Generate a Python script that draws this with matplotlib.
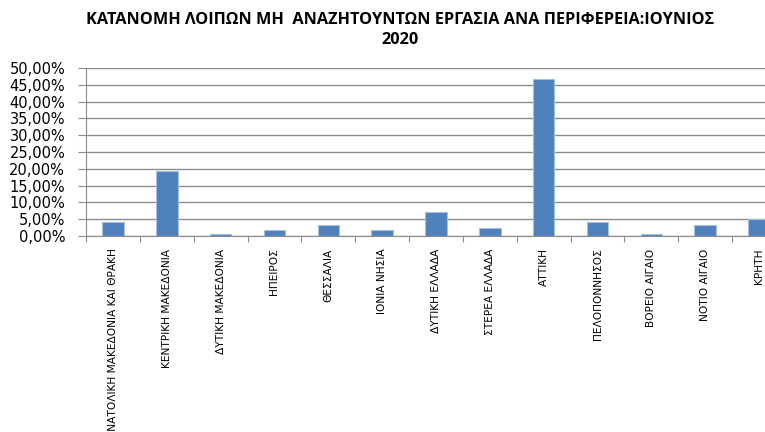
import matplotlib
matplotlib.use("Agg")
import matplotlib.pyplot as plt
from matplotlib.ticker import FuncFormatter

regions = [
    "ΑΝΑΤΟΛΙΚΗ ΜΑΚΕΔΟΝΙΑ ΚΑΙ ΘΡΑΚΗ", "ΚΕΝΤΡΙΚΗ ΜΑΚΕΔΟΝΙΑ", "ΔΥΤΙΚΗ ΜΑΚΕΔΟΝΙΑ",
    "ΗΠΕΙΡΟΣ", "ΘΕΣΣΑΛΙΑ", "ΙΟΝΙΑ ΝΗΣΙΑ", "ΔΥΤΙΚΗ ΕΛΛΑΔΑ", "ΣΤΕΡΕΑ ΕΛΛΑΔΑ",
    "ΑΤΤΙΚΗ", "ΠΕΛΟΠΟΝΝΗΣΟΣ", "ΒΟΡΕΙΟ ΑΙΓΑΙΟ", "ΝΟΤΙΟ ΑΙΓΑΙΟ", "ΚΡΗΤΗ",
]
shares = [0.043, 0.194, 0.005, 0.019, 0.033, 0.018, 0.072, 0.024,
          0.467, 0.043, 0.006, 0.032, 0.050]
title = "ΚΑΤΑΝΟΜΗ ΛΟΙΠΩΝ ΜΗ  ΑΝΑΖΗΤΟΥΝΤΩΝ ΕΡΓΑΣΙΑ ΑΝΑ ΠΕΡΙΦΕΡΕΙΑ:ΙΟΥΝΙΟΣ\n2020"

W, H = 765, 432
fig = plt.figure(figsize=(W / 100, H / 100), dpi=100)
# plot area runs past the right edge, like the clipped original
left, right, top, bottom = 86, 786, 68, 236
ax = fig.add_axes([left / W, 1 - bottom / H, (right - left) / W, (bottom - top) / H])

x = list(range(len(regions)))
ax.bar(x, shares, width=0.4, color="#4F81BD", edgecolor="#A7BFDE", linewidth=0.8,
       zorder=3)
ax.set_xlim(-0.5, len(regions) - 0.5)
ax.set_ylim(0, 0.5)
ax.set_yticks([i * 0.05 for i in range(11)])
ax.yaxis.set_major_formatter(FuncFormatter(lambda v, _: f"{v * 100:.2f}%".replace(".", ",")))
ax.grid(axis="y", color="#8C8C8C", linewidth=1.0, zorder=0)

# ticks sit on category boundaries, labels in the middle
ax.set_xticks([i + 0.5 for i in range(-1, len(regions))], minor=False)
ax.set_xticklabels([])
ax.set_xticks(x, minor=True)
ax.set_xticklabels(regions, minor=True, rotation=90, va="top", fontsize=7.7)
ax.tick_params(axis="x", which="major", length=4, color="#8C8C8C", direction="out")
ax.tick_params(axis="x", which="minor", length=0, pad=9)
ax.tick_params(axis="y", length=6, color="#8C8C8C", labelsize=10.5, pad=9)

for side in ("top", "right"):
    ax.spines[side].set_visible(False)
for side in ("left", "bottom"):
    ax.spines[side].set_color("#8C8C8C")

fig.text(400 / W, 1 - 30 / H, title, ha="center", va="center", fontsize=11.7,
         fontweight="bold", family=["Open Sans", "DejaVu Sans"], linespacing=1.3)

fig.savefig("out.png", dpi=100)
